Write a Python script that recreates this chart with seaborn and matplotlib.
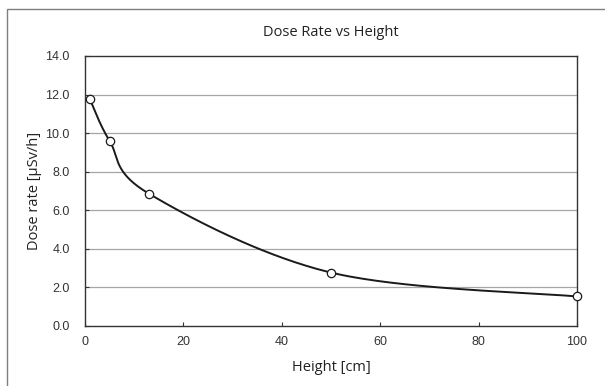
import numpy as np
import pandas as pd
import matplotlib
matplotlib.use("Agg")
import matplotlib.pyplot as plt
import seaborn as sns
from matplotlib.patches import Rectangle

height_cm = [1, 5, 13, 50, 100]
dose_rate = [11.75, 9.6, 6.86, 2.77, 1.53]
x_ticks = [0, 20, 40, 60, 80, 100]
y_ticks = [0, 2, 4, 6, 8, 10, 12, 14]

sns.set_theme(style="white")
plt.rcParams['font.family'] = ['Liberation Sans', 'DejaVu Sans']

# Excel-style smoothed line (cubic Bezier through the points)
def excel_smooth(xs, ys, n=60):
    xs = np.asarray(xs, float); ys = np.asarray(ys, float)
    P = np.column_stack([xs, ys])
    out = []
    for i in range(len(P) - 1):
        p0 = P[i - 1] if i > 0 else P[i]
        p1 = P[i]; p2 = P[i + 1]
        p3 = P[i + 2] if i + 2 < len(P) else P[i + 1]
        c1 = p1 + (p2 - p0) / 6.0
        c2 = p2 - (p3 - p1) / 6.0
        t = np.linspace(0, 1, n)[:, None]
        seg = ((1 - t) ** 3) * p1 + 3 * ((1 - t) ** 2) * t * c1 + 3 * (1 - t) * t ** 2 * c2 + t ** 3 * p2
        out.append(seg if i == 0 else seg[1:])
    return np.vstack(out)

curve = excel_smooth(height_cm, dose_rate)
curve_df = pd.DataFrame({"x": curve[:, 0], "y": curve[:, 1]})
pts_df = pd.DataFrame({"Height": height_cm, "Dose": dose_rate})

fig = plt.figure(figsize=(6.05, 3.86), dpi=100)
ax = fig.add_axes([85 / 605, 1 - 326 / 386, (577 - 85) / 605, (326 - 56) / 386])

fig.patches.append(Rectangle((7 / 605, -0.5), 1.2, 1.5 - 9 / 386, transform=fig.transFigure,
                             fill=False, edgecolor="#7f7f7f", linewidth=1.0, zorder=0))

for yv in y_ticks[1:-1]:
    ax.axhline(yv, color="#a6a6a6", linewidth=0.9, zorder=0)

sns.lineplot(data=curve_df, x="x", y="y", sort=False, color="#1a1a1a", linewidth=1.4,
             ax=ax, zorder=2, estimator=None)
sns.scatterplot(data=pts_df, x="Height", y="Dose", marker="o", s=36, color="white",
                edgecolor="#1a1a1a", linewidth=0.9, ax=ax, zorder=3, clip_on=False)

ax.set_xlim(0, 100)
ax.set_ylim(0, 14)
ax.set_xticks(x_ticks)
ax.set_yticks(y_ticks)
ax.set_xticklabels([str(v) for v in x_ticks], fontsize=9, color="#333333")
ax.set_yticklabels([f"{v:.1f}" for v in y_ticks], fontsize=9, color="#333333")
ax.tick_params(axis="x", direction="in", length=3, width=0.8, color="#333333", pad=7, bottom=True)
ax.tick_params(axis="y", direction="in", length=3, width=0.8, color="#333333", pad=11, left=True)

for s in ax.spines.values():
    s.set_visible(True)
    s.set_color("#333333")
    s.set_linewidth(1.0)

ax.set_xlabel("Height [cm]", fontsize=10.5, family=["Open Sans", "DejaVu Sans"], labelpad=9, color="#222222")
ax.set_ylabel("")
fig.text(35 / 605, 1 - 191 / 386, "Dose rate [µSv/h]", ha="center", va="center", rotation=90,
         fontsize=10.5, family=["Open Sans", "DejaVu Sans"], color="#222222")
fig.text(331 / 605, 1 - 33 / 386, "Dose Rate vs Height", ha="center", va="center",
         fontsize=10.5, family=["Open Sans", "DejaVu Sans"], color="#222222")

fig.savefig("out.png", dpi=100)
